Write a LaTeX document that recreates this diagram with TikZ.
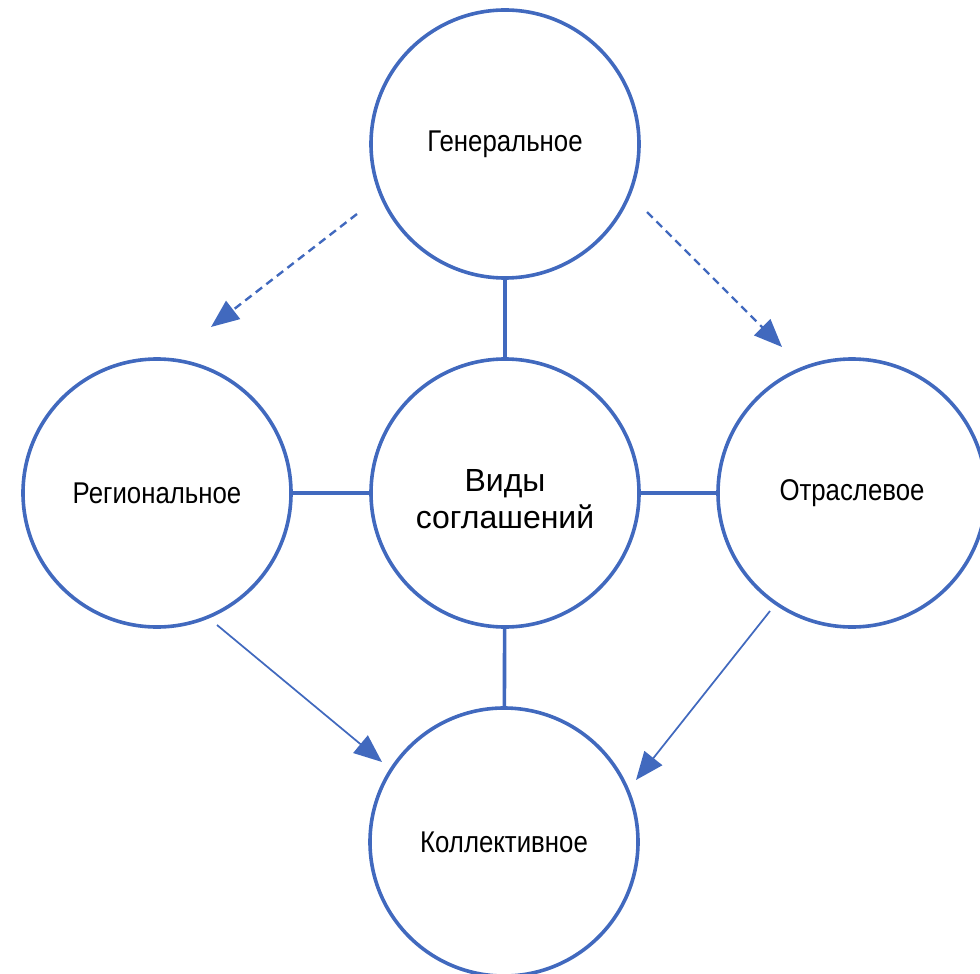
\documentclass[tikz,border=0pt]{standalone}
\usepackage{fontspec}
\setmainfont{Liberation Sans}
\newfontfamily\narrowsf[FakeStretch=0.86]{Liberation Sans}
\usetikzlibrary{arrows.meta}
\definecolor[named]{OfficeBlue}{HTML}{4169BE}
\tikzset{vid/.style={circle,draw=OfficeBlue,line width=2.7pt,
    minimum size=201pt,inner sep=0pt,
    font=\narrowsf\fontsize{22.5}{27}\selectfont}}
\tikzset{link/.style={draw=OfficeBlue,line width=2.7pt}}
\tikzset{flow/.style={draw=OfficeBlue,line width=1.3pt,
    -{Triangle[length=21pt,width=17pt]}}}

\begin{document}
\begin{tikzpicture}[x=0.75pt,y=-0.75pt]
  \useasboundingbox (0,0) rectangle (980,973);
  \clip (0,0) rectangle (980,973);
  % circles
  \node[vid] (V) at (505,493) {};
  \node[font=\fontsize{24}{27.75}\selectfont,align=center] (Vt) at (505,499)
    {Виды\\соглашений};
  \node[vid] (G) at (505,144) {Генеральное};
  \node[vid] (R) at (157,493) {Региональное};
  \node[vid] (O) at (852,493) {Отраслевое};
  \node[vid] (K) at (504,842) {Коллективное};
  % links
  \draw[link] (G) -- (V);
  \draw[link] (R) -- (V);
  \draw[link] (V) -- (O);
  \draw[link] (V) -- (K);
  % arrows
  \coordinate (g1) at (357,214);
  \coordinate (r1) at (211,327);
  \coordinate (g2) at (647,212);
  \coordinate (o1) at (782,347);
  \coordinate (r2) at (217,625);
  \coordinate (k1) at (382,762);
  \coordinate (o2) at (770,611);
  \coordinate (k2) at (636,780);
  \draw[flow,line width=1.8pt,dash pattern=on 6pt off 4pt] (g1) -- (r1);
  \draw[flow,line width=1.8pt,dash pattern=on 6pt off 4pt] (g2) -- (o1);
  \draw[flow] (r2) -- (k1);
  \draw[flow] (o2) -- (k2);
\end{tikzpicture}
\end{document}
